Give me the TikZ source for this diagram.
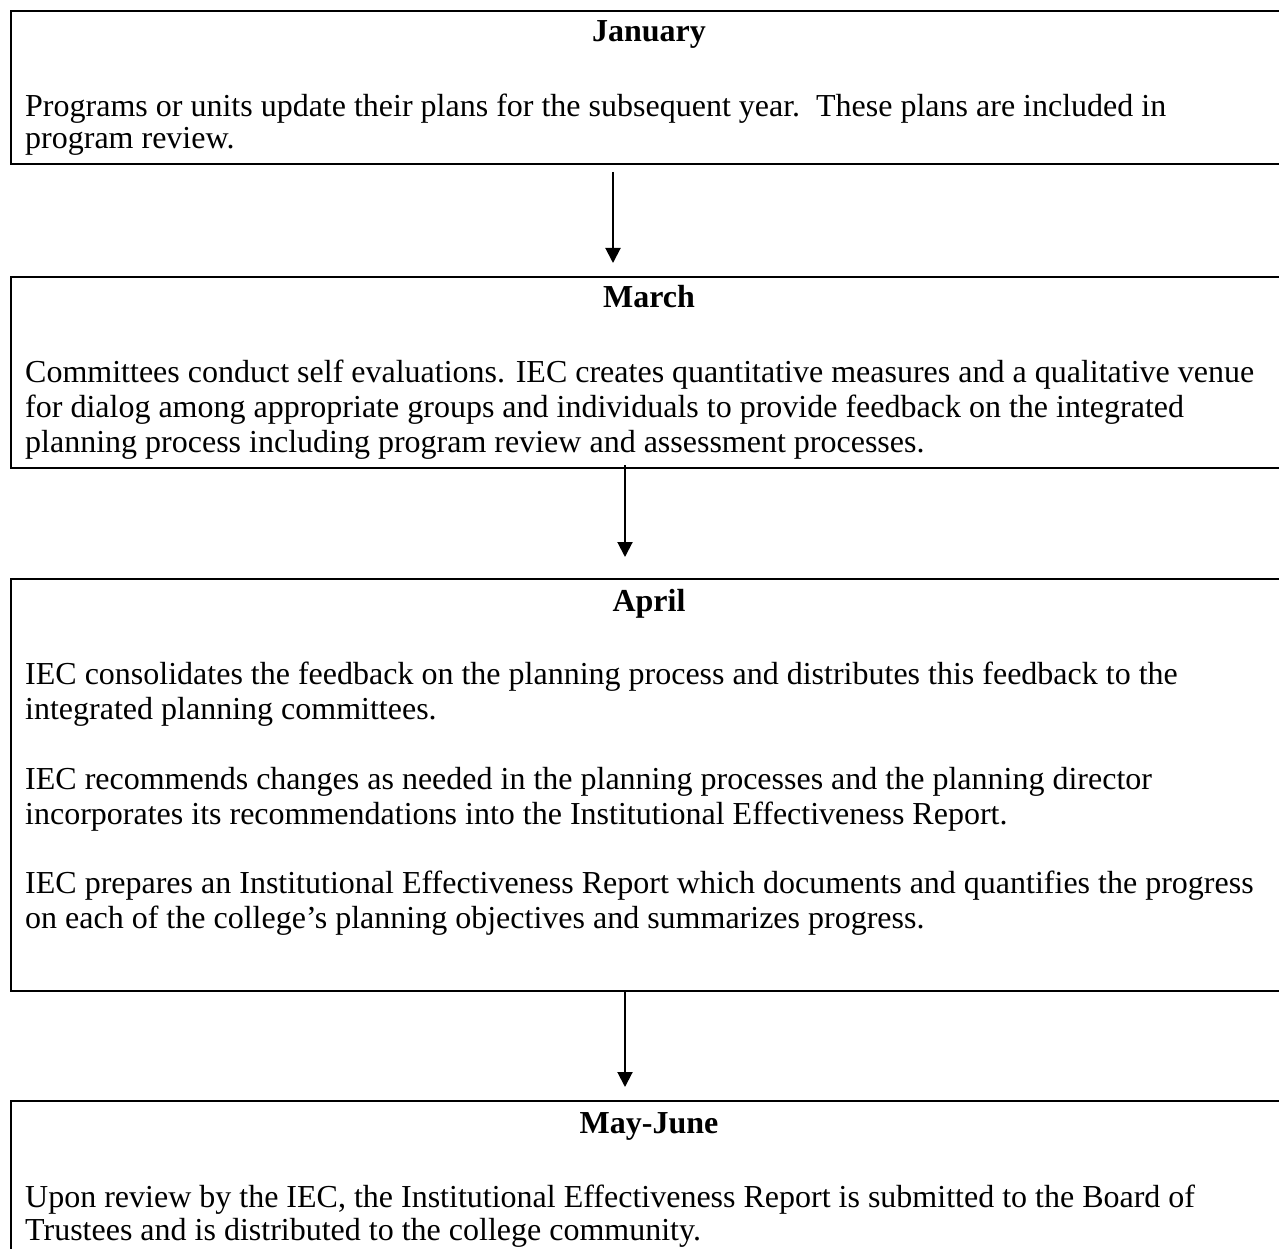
\documentclass[tikz,border=0pt]{standalone}
\usepackage{fontspec}
\setmainfont{Liberation Serif}
\usetikzlibrary{arrows.meta}
\tikzset{
  stagebox/.style={draw=black, line width=2pt, rectangle, anchor=north west, minimum width=1278pt, inner sep=0pt},
  head/.style={anchor=base, inner sep=0pt, font=\fontsize{32}{34}\selectfont\bfseries},
  txt/.style={anchor=base west, inner sep=0pt, font=\fontsize{32}{34}\selectfont},
  flow/.style={line width=2pt, -{Triangle[width=15pt,length=15pt]}}
}
\begin{document}
\begin{tikzpicture}[x=1pt,y=-1pt]
\useasboundingbox (0,0) rectangle (1279,1249);
\clip (0,0) rectangle (1279,1249);
\fill[white] (0,0) rectangle (1279,1249);

% boxes
\node[stagebox, minimum height=153pt] (b1) at (10,10) {};
\node[stagebox, minimum height=191pt] (b2) at (10,276) {};
\node[stagebox, minimum height=412pt] (b3) at (10,578) {};
\node[stagebox, minimum height=160pt] (b4) at (10,1100) {};

% box 1
\node[head] (h1) at (649,42) {January};
\node[txt] (t11) at (25,117) {Programs or units update their plans for the subsequent year.\ \ These plans are included in};
\node[txt] (t12) at (25,149) {program review.};

% box 2
\node[head] (h2) at (649,307) {March};
\node[txt] (t21) at (25,382) {Committees conduct self evaluations. IEC creates quantitative measures and a qualitative venue};
\node[txt] (t22) at (25,417) {for dialog among appropriate groups and individuals to provide feedback on the integrated};
\node[txt] (t23) at (25,452) {planning process including program review and assessment processes.};

% box 3
\node[head] (h3) at (649,611) {April};
\node[txt] (t31) at (25,684) {IEC consolidates the feedback on the planning process and distributes this feedback to the};
\node[txt] (t32) at (25,719) {integrated planning committees.};
\node[txt] (t33) at (25,789) {IEC recommends changes as needed in the planning processes and the planning director};
\node[txt] (t34) at (25,824) {incorporates its recommendations into the Institutional Effectiveness Report.};
\node[txt] (t35) at (25,893) {IEC prepares an Institutional Effectiveness Report which documents and quantifies the progress};
\node[txt] (t36) at (25,928) {on each of the college’s planning objectives and summarizes progress.};

% box 4
\node[head] (h4) at (649,1133) {May-June};
\node[txt] (t41) at (25,1207) {Upon review by the IEC, the Institutional Effectiveness Report is submitted to the Board of};
\node[txt] (t42) at (25,1240) {Trustees and is distributed to the college community.};

% arrows
\coordinate (ax1) at (613,0);
\coordinate (ax2) at (625,0);
\draw[flow, shorten <=7pt, shorten >=13pt] (b1.south -| ax1) -- (b2.north -| ax1);
\draw[flow, shorten <=-4pt, shorten >=21pt] (b2.south -| ax2) -- (b3.north -| ax2);
\draw[flow, shorten >=13pt] (b3.south -| ax2) -- (b4.north -| ax2);
\end{tikzpicture}
\end{document}
